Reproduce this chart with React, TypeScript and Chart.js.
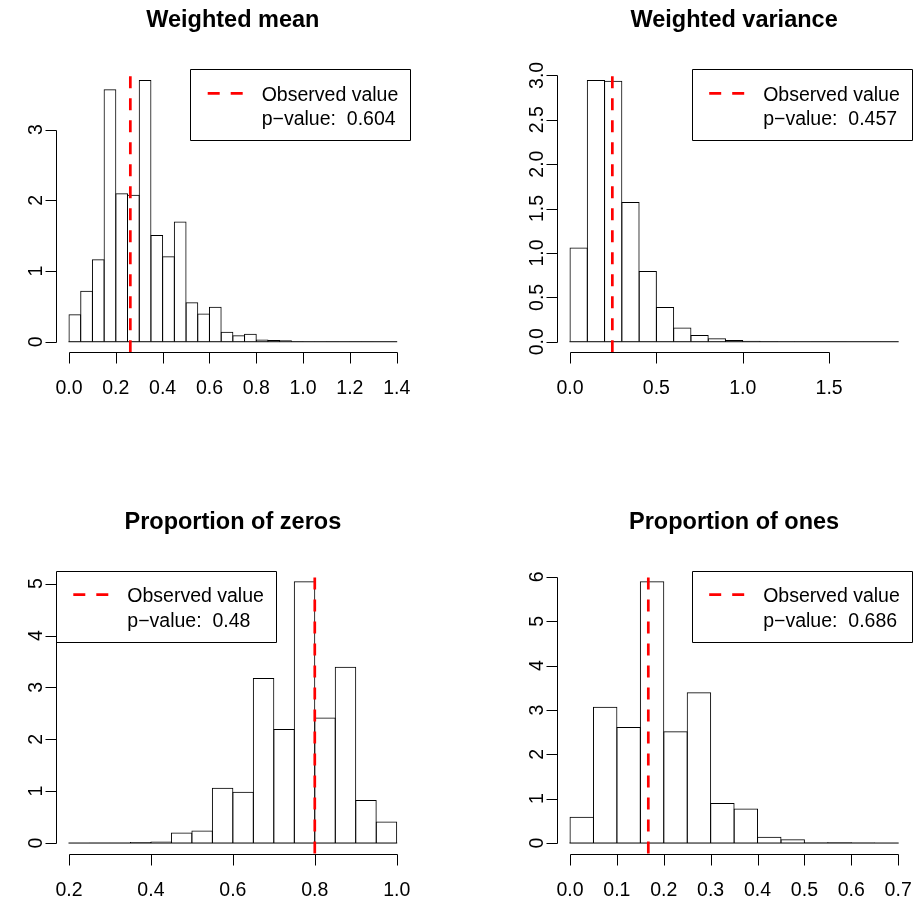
import React, { useEffect, useRef } from "react";
import { Chart, registerables } from "chart.js";

Chart.register(...registerables);

// ---------- Data ----------
// Panel 1: Weighted mean
const meanTitle = "Weighted mean";
const meanBinStart = 0;
const meanBinWidth = 0.05;
const meanDensity = [
  0.39, 0.72, 1.165, 3.57, 2.1, 2.08, 3.7, 1.51, 1.21, 1.7, 0.56, 0.4, 0.495, 0.14,
  0.09, 0.113, 0.033, 0.024, 0.02, 0.008, 0.005, 0.004, 0.003, 0.004, 0.003, 0.002, 0.001, 0.001,
];
const meanObserved = 0.262;
const meanPValue = "0.604";
const meanXTicks = [0, 0.2, 0.4, 0.6, 0.8, 1.0, 1.2, 1.4];
const meanXLabels = ["0.0", "0.2", "0.4", "0.6", "0.8", "1.0", "1.2", "1.4"];
const meanYTicks = [0, 1, 2, 3];
const meanYLabels = ["0", "1", "2", "3"];

// Panel 2: Weighted variance
const varTitle = "Weighted variance";
const varBinStart = 0;
const varBinWidth = 0.1;
const varDensity = [
  1.062, 2.947, 2.939, 1.573, 0.796, 0.39, 0.161, 0.075, 0.038, 0.019, 0.011, 0.006,
  0.004, 0.003, 0.002, 0.002, 0.001, 0.003, 0.0005,
];
const varObserved = 0.245;
const varPValue = "0.457";
const varXTicks = [0, 0.5, 1.0, 1.5];
const varXLabels = ["0.0", "0.5", "1.0", "1.5"];
const varYTicks = [0, 0.5, 1.0, 1.5, 2.0, 2.5, 3.0];
const varYLabels = ["0.0", "0.5", "1.0", "1.5", "2.0", "2.5", "3.0"];

// Panel 3: Proportion of zeros
const zerosTitle = "Proportion of zeros";
const zerosBinStart = 0.2;
const zerosBinWidth = 0.05;
const zerosDensity = [
  0, 0.005, 0.005, 0.02, 0.03, 0.205, 0.244, 1.065, 0.988, 3.18, 2.2, 5.045, 2.42, 3.4, 0.828, 0.417,
];
const zerosObserved = 0.8;
const zerosPValue = "0.48";
const zerosXTicks = [0.2, 0.4, 0.6, 0.8, 1.0];
const zerosXLabels = ["0.2", "0.4", "0.6", "0.8", "1.0"];
const zerosYTicks = [0, 1, 2, 3, 4, 5];
const zerosYLabels = ["0", "1", "2", "3", "4", "5"];

// Panel 4: Proportion of ones
const onesTitle = "Proportion of ones";
const onesBinStart = 0;
const onesBinWidth = 0.05;
const onesDensity = [
  0.594, 3.075, 2.617, 5.9, 2.52, 3.4, 0.9, 0.78, 0.143, 0.083, 0.02, 0.015, 0.01, 0.003,
];
const onesObserved = 0.167;
const onesPValue = "0.686";
const onesXTicks = [0, 0.1, 0.2, 0.3, 0.4, 0.5, 0.6, 0.7];
const onesXLabels = ["0.0", "0.1", "0.2", "0.3", "0.4", "0.5", "0.6", "0.7"];
const onesYTicks = [0, 1, 2, 3, 4, 5, 6];
const onesYLabels = ["0", "1", "2", "3", "4", "5", "6"];

const legendLine1 = "Observed value";
const legendPrefix = "p\u2212value:  ";

// ---------- Layout ----------
const W = 914;
const H = 903;
const FONT = '"Liberation Sans", Arial, Helvetica, sans-serif';

type Area = { l: number; t: number; r: number; b: number };
type PanelCfg = {
  title: string;
  binStart: number;
  binWidth: number;
  density: number[];
  observed: number;
  pValue: string;
  xTicks: number[];
  xLabels: string[];
  yTicks: number[];
  yLabels: string[];
  legendSide: "left" | "right";
  area: Area;
};

const panels: PanelCfg[] = [
  {
    title: meanTitle, binStart: meanBinStart, binWidth: meanBinWidth, density: meanDensity,
    observed: meanObserved, pValue: meanPValue, xTicks: meanXTicks, xLabels: meanXLabels,
    yTicks: meanYTicks, yLabels: meanYLabels, legendSide: "right",
    area: { l: 55.9, t: 69.6, r: 409.8, b: 352.2 },
  },
  {
    title: varTitle, binStart: varBinStart, binWidth: varBinWidth, density: varDensity,
    observed: varObserved, pValue: varPValue, xTicks: varXTicks, xLabels: varXLabels,
    yTicks: varYTicks, yLabels: varYLabels, legendSide: "right",
    area: { l: 556.9, t: 69.6, r: 911.3, b: 352.2 },
  },
  {
    title: zerosTitle, binStart: zerosBinStart, binWidth: zerosBinWidth, density: zerosDensity,
    observed: zerosObserved, pValue: zerosPValue, xTicks: zerosXTicks, xLabels: zerosXLabels,
    yTicks: zerosYTicks, yLabels: zerosYLabels, legendSide: "left",
    area: { l: 55.9, t: 570.9, r: 409.8, b: 853.5 },
  },
  {
    title: onesTitle, binStart: onesBinStart, binWidth: onesBinWidth, density: onesDensity,
    observed: onesObserved, pValue: onesPValue, xTicks: onesXTicks, xLabels: onesXLabels,
    yTicks: onesYTicks, yLabels: onesYLabels, legendSide: "right",
    area: { l: 556.9, t: 570.9, r: 911.3, b: 853.5 },
  },
];

const snap = (v: number) => Math.round(v) + 0.5;

function makePlugin(cfg: PanelCfg) {
  return {
    id: "rStyle",
    afterDatasetsDraw(chart: any) {
      const ctx = chart.ctx as CanvasRenderingContext2D;
      const xs = chart.scales.x;
      const ys = chart.scales.y;
      const { top, bottom } = chart.chartArea;
      const n = cfg.density.length;
      const lo = cfg.binStart;
      const hi = cfg.binStart + n * cfg.binWidth;
      ctx.save();
      // baseline (bottom edges of the histogram rectangles)
      ctx.strokeStyle = "#000";
      ctx.lineWidth = 1;
      ctx.beginPath();
      const y0 = ys.getPixelForValue(0);
      ctx.moveTo(xs.getPixelForValue(lo) - 0.5, y0);
      ctx.lineTo(xs.getPixelForValue(hi) + 0.5, y0);
      ctx.stroke();
      // observed value line
      const ox = xs.getPixelForValue(cfg.observed);
      ctx.strokeStyle = "#FF0000";
      ctx.lineWidth = 2.7;
      ctx.setLineDash([12, 10]);
      ctx.lineCap = "butt";
      ctx.beginPath();
      ctx.moveTo(ox, bottom);
      ctx.lineTo(ox, top);
      ctx.stroke();
      ctx.restore();
    },
    afterDraw(chart: any) {
      const ctx = chart.ctx as CanvasRenderingContext2D;
      const xs = chart.scales.x;
      const ys = chart.scales.y;
      const { left, right, top, bottom } = chart.chartArea;
      ctx.save();
      ctx.strokeStyle = "#000";
      ctx.fillStyle = "#000";
      ctx.lineWidth = 1;
      ctx.setLineDash([]);

      // x axis
      const ay = snap(bottom);
      const xPix = cfg.xTicks.map((v) => snap(xs.getPixelForValue(v)));
      ctx.beginPath();
      ctx.moveTo(xPix[0], ay);
      ctx.lineTo(xPix[xPix.length - 1], ay);
      xPix.forEach((px) => {
        ctx.moveTo(px, ay);
        ctx.lineTo(px, ay + 11);
      });
      ctx.stroke();
      ctx.font = `19.5px ${FONT}`;
      ctx.textAlign = "center";
      ctx.textBaseline = "alphabetic";
      cfg.xLabels.forEach((lab, i) => {
        ctx.fillText(lab, xs.getPixelForValue(cfg.xTicks[i]), bottom + 42);
      });

      // y axis
      const ax = snap(left);
      const yPix = cfg.yTicks.map((v) => snap(ys.getPixelForValue(v)));
      ctx.beginPath();
      ctx.moveTo(ax, yPix[0]);
      ctx.lineTo(ax, yPix[yPix.length - 1]);
      yPix.forEach((py) => {
        ctx.moveTo(ax, py);
        ctx.lineTo(ax - 11, py);
      });
      ctx.stroke();
      cfg.yLabels.forEach((lab, i) => {
        ctx.save();
        ctx.translate(left - 14, ys.getPixelForValue(cfg.yTicks[i]));
        ctx.rotate(-Math.PI / 2);
        ctx.fillText(lab, 0, 0);
        ctx.restore();
      });

      // title
      ctx.font = `bold 23.5px ${FONT}`;
      ctx.fillText(cfg.title, (left + right) / 2, top - 42.3);

      // legend
      const bw = 219.5;
      const bh = 71.4;
      const bx = cfg.legendSide === "right" ? right - bw : left;
      const by = top - 0.3;
      ctx.beginPath();
      ctx.rect(snap(bx), snap(by), Math.round(bw), Math.round(bh));
      ctx.stroke();
      ctx.strokeStyle = "#FF0000";
      ctx.lineWidth = 2.7;
      ctx.setLineDash([12, 11]);
      ctx.beginPath();
      ctx.moveTo(bx + 17.4, by + 24);
      ctx.lineTo(bx + 53, by + 24);
      ctx.stroke();
      ctx.setLineDash([]);
      ctx.font = `19.5px ${FONT}`;
      ctx.textAlign = "left";
      ctx.fillText(legendLine1, bx + 71.4, by + 31.4);
      ctx.fillText(legendPrefix + cfg.pValue, bx + 71.4, by + 56);
      ctx.restore();
    },
  };
}

function Panel({ cfg }: { cfg: PanelCfg }) {
  const ref = useRef<HTMLCanvasElement | null>(null);
  useEffect(() => {
    if (!ref.current) return;
    const n = cfg.density.length;
    const lo = cfg.binStart;
    const hi = cfg.binStart + n * cfg.binWidth;
    const span = hi - lo;
    const ymax = Math.max(...cfg.density);
    const points = cfg.density.map((y, i) => ({ x: lo + (i + 0.5) * cfg.binWidth, y }));
    // widen each bar by one pixel so neighbouring outlines coincide (single shared edge)
    const binPx = ((cfg.area.r - cfg.area.l) * cfg.binWidth) / (span * 1.08);
    const chart = new Chart(ref.current, {
      type: "bar",
      data: {
        datasets: [
          {
            data: points as any,
            backgroundColor: "rgba(0,0,0,0)",
            borderColor: "#000",
            borderWidth: { top: 1, left: 1, right: 1, bottom: 0 },
            borderSkipped: false,
            barPercentage: 1 + 1 / binPx,
            categoryPercentage: 1,
            barThickness: "flex",
            inflateAmount: 0,
          } as any,
        ],
      },
      options: {
        animation: false,
        responsive: false,
        maintainAspectRatio: false,
        events: [],
        layout: {
          padding: {
            left: cfg.area.l,
            top: cfg.area.t,
            right: W - cfg.area.r,
            bottom: H - cfg.area.b,
          },
        },
        plugins: {
          legend: { display: false },
          title: { display: false },
          tooltip: { enabled: false },
        },
        scales: {
          x: {
            type: "linear",
            min: lo - 0.04 * span,
            max: hi + 0.04 * span,
            offset: false,
            display: false,
          },
          y: { type: "linear", min: -0.04 * ymax, max: 1.04 * ymax, display: false },
        },
      },
      plugins: [makePlugin(cfg)],
    });
    return () => chart.destroy();
  }, [cfg]);
  return (
    <canvas
      ref={ref}
      width={W}
      height={H}
      style={{ position: "absolute", left: 0, top: 0, width: W, height: H }}
    />
  );
}

export default function App() {
  return (
    <div
      style={{
        position: "absolute",
        left: 0,
        top: 0,
        width: W,
        height: H,
        overflow: "hidden",
        background: "#ffffff",
      }}
    >
      {panels.map((p) => (
        <Panel key={p.title} cfg={p} />
      ))}
    </div>
  );
}
